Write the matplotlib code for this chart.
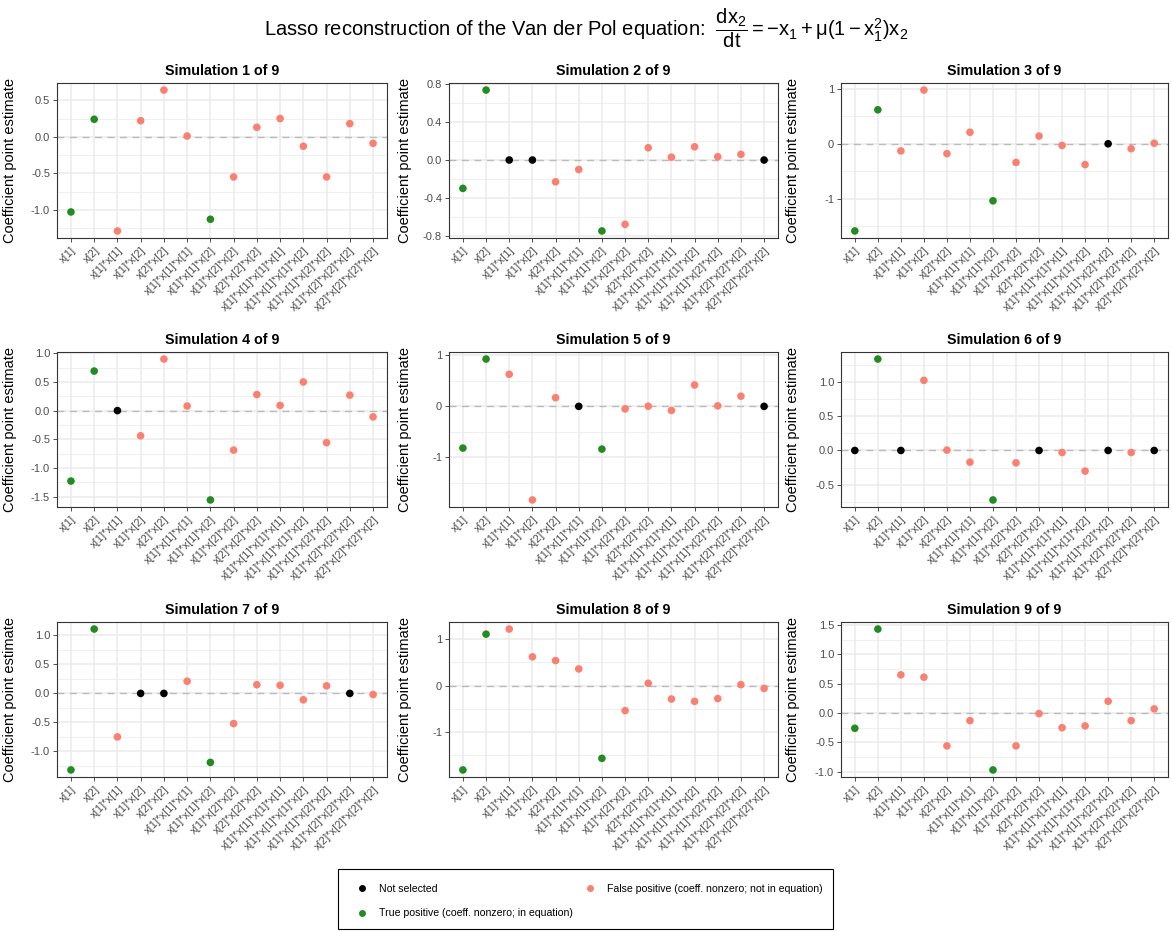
import matplotlib
matplotlib.use("Agg")
import matplotlib.pyplot as plt
from matplotlib.lines import Line2D
from matplotlib.patches import Rectangle
import numpy as np

plt.rcParams['font.family'] = ['Liberation Sans', 'DejaVu Sans']
plt.rcParams['mathtext.fontset'] = 'custom'
plt.rcParams['mathtext.rm'] = 'Liberation Sans'
plt.rcParams['mathtext.it'] = 'Liberation Sans'
plt.rcParams['mathtext.bf'] = 'Liberation Sans:bold'

# candidate library terms (polynomials up to order 4)
terms = ["x[1]", "x[2]", "x[1]*x[1]", "x[1]*x[2]", "x[2]*x[2]",
         "x[1]*x[1]*x[1]", "x[1]*x[1]*x[2]", "x[1]*x[2]*x[2]", "x[2]*x[2]*x[2]",
         "x[1]*x[1]*x[1]*x[1]", "x[1]*x[1]*x[1]*x[2]", "x[1]*x[1]*x[2]*x[2]",
         "x[1]*x[2]*x[2]*x[2]", "x[2]*x[2]*x[2]*x[2]"]

# terms that really appear in dx2/dt
in_equation = [True, True, False, False, False, False, True,
               False, False, False, False, False, False, False]

# lasso coefficient estimates, one list per simulation
sim1 = [-1.03, 0.24, -1.29, 0.22, 0.64, 0.01, -1.13, -0.55, 0.13, 0.25, -0.13, -0.55, 0.18, -0.09]
sim2 = [-0.30, 0.74, 0.0, 0.0, -0.23, -0.10, -0.75, -0.68, 0.13, 0.03, 0.14, 0.035, 0.06, 0.0]
sim3 = [-1.59, 0.62, -0.13, 0.98, -0.18, 0.21, -1.04, -0.34, 0.14, -0.03, -0.38, 0.0, -0.09, 0.01]
sim4 = [-1.23, 0.69, 0.0, -0.44, 0.90, 0.08, -1.56, -0.69, 0.28, 0.09, 0.50, -0.56, 0.27, -0.11]
sim5 = [-0.82, 0.93, 0.63, -1.84, 0.17, 0.0, -0.84, -0.05, 0.003, -0.08, 0.42, 0.01, 0.20, 0.0]
sim6 = [0.0, 1.33, 0.0, 1.02, 0.005, -0.17, -0.72, -0.18, 0.0, -0.03, -0.30, 0.0, -0.03, 0.0]
sim7 = [-1.32, 1.11, -0.75, 0.0, 0.0, 0.21, -1.19, -0.52, 0.15, 0.14, -0.11, 0.13, 0.0, -0.02]
sim8 = [-1.82, 1.11, 1.22, 0.62, 0.54, 0.36, -1.57, -0.54, 0.05, -0.29, -0.34, -0.28, 0.02, -0.06]
sim9 = [-0.26, 1.43, 0.65, 0.61, -0.56, -0.13, -0.97, -0.56, -0.01, -0.25, -0.22, 0.20, -0.13, 0.07]
sims = [sim1, sim2, sim3, sim4, sim5, sim6, sim7, sim8, sim9]

tick_steps = [0.5, 0.4, 1, 0.5, 1, 0.5, 0.5, 1, 0.5]

col_black = "black"
col_green = "#228B22"
col_salmon = "#FA8072"
grid_col = "#EBEBEB"
tick_col = "#4D4D4D"

W, H = 1172, 932
fig = plt.figure(figsize=(W / 100, H / 100), dpi=100)

cols = [(57, 387), (449, 778), (841, 1168)]
rows = [(83, 238), (352, 507), (622, 777)]
ylab_x = [-0.121, -0.112, -0.125]

xpos = np.arange(len(terms))

for i, vals in enumerate(sims):
    r, c = divmod(i, 3)
    x0, x1 = cols[c]
    y0, y1 = rows[r]
    ax = fig.add_axes([x0 / W, 1 - y1 / H, (x1 - x0) / W, (y1 - y0) / H])
    vals = np.array(vals)
    colors = []
    for v, eq in zip(vals, in_equation):
        if v == 0:
            colors.append(col_black)
        elif eq:
            colors.append(col_green)
        else:
            colors.append(col_salmon)

    lo, hi = vals.min(), vals.max()
    pad = 0.05 * (hi - lo)
    ax.set_ylim(lo - pad, hi + pad)
    ax.set_xlim(-0.6, len(terms) - 0.4)

    step = tick_steps[i]
    major = np.arange(np.ceil((lo - pad) / step) * step, hi + pad + 1e-9, step)
    minor = np.arange(np.floor((lo - pad) / step) * step - step / 2, hi + pad + step, step)
    for m in minor:
        ax.axhline(m, color=grid_col, lw=0.55, zorder=0)
    for m in major:
        ax.axhline(m, color=grid_col, lw=1.1, zorder=0)
    for xx in xpos:
        ax.axvline(xx, color=grid_col, lw=1.1, zorder=0)
    ax.axhline(0, color="#BBBBBB", lw=1.0, ls=(0, (5, 4)), zorder=1)

    ax.scatter(xpos, vals, c=colors, s=30, zorder=3, linewidths=0)

    ax.set_yticks(major)
    if float(step).is_integer():
        ax.set_yticklabels(["%d" % round(m) if abs(m) > 1e-9 else "0" for m in major])
    else:
        ax.set_yticklabels(["%.1f" % (0.0 if abs(m) < 1e-9 else m) for m in major])
    ax.set_xticks(xpos)
    ax.set_xticklabels(terms, rotation=45, ha="right", rotation_mode="anchor")
    ax.tick_params(axis="both", labelsize=8, labelcolor=tick_col, color="#333333",
                   length=3, width=0.6, pad=2)
    for s in ax.spines.values():
        s.set_color("#333333")
        s.set_linewidth(0.8)
    ax.set_title("Simulation %d of 9" % (i + 1), fontsize=10.3, fontweight="bold", pad=6)
    ax.set_ylabel("Coefficient point estimate", fontsize=10.5)
    ax.yaxis.set_label_coords(ylab_x[c], 0.5)

fig.text(0.5, 1 - 28 / H,
         r"Lasso reconstruction of the Van der Pol equation:  $\dfrac{\mathrm{dx}_2}{\mathrm{dt}} = -\mathrm{x}_1 + \mu(1 - \mathrm{x}_1^2)\mathrm{x}_2$",
         ha="center", va="center", fontsize=14.5)

# legend: frame drawn separately, entries laid out by fig.legend
fig.patches.append(Rectangle((338 / W, 1 - 929 / H), (833 - 338) / W, 60 / H,
                             transform=fig.transFigure, fill=False,
                             edgecolor="black", linewidth=0.8))
handles = [
    Line2D([], [], ls="none", marker="o", ms=5, mfc=col_black, mec="none"),
    Line2D([], [], ls="none", marker="o", ms=5, mfc=col_green, mec="none"),
    Line2D([], [], ls="none", marker="o", ms=5, mfc=col_salmon, mec="none"),
]
labels = ["Not selected", "True positive (coeff. nonzero; in equation)",
          "False positive (coeff. nonzero; not in equation)"]
leg = fig.legend(handles, labels, ncol=2, loc="upper left",
                 bbox_to_anchor=(357 / W, 1 - 884 / H),
                 fontsize=7.6, frameon=False, borderpad=0, borderaxespad=0,
                 handlelength=1.0, handletextpad=1.1, columnspacing=1.15,
                 labelspacing=1.35)

fig.savefig("out.png", dpi=100)
